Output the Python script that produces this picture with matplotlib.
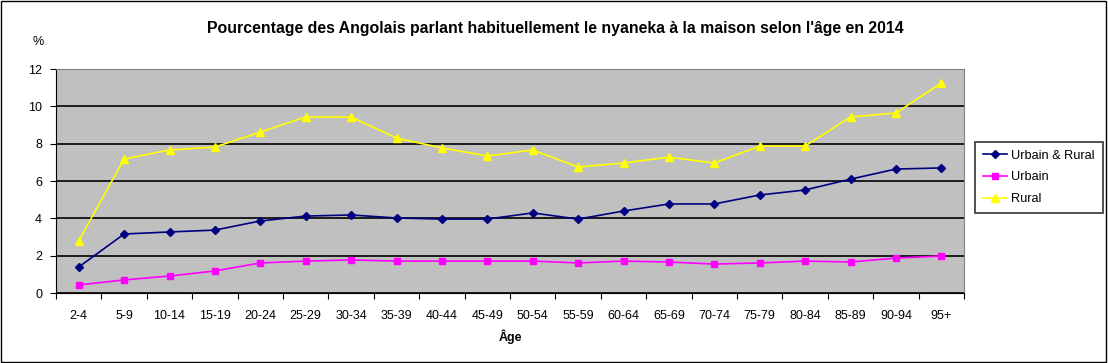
import matplotlib
matplotlib.use("Agg")
import matplotlib.pyplot as plt
import numpy as np

# Tranches d'âge
ages = ["2-4", "5-9", "10-14", "15-19", "20-24", "25-29", "30-34", "35-39", "40-44",
        "45-49", "50-54", "55-59", "60-64", "65-69", "70-74", "75-79", "80-84",
        "85-89", "90-94", "95+"]

urbain_rural = [1.39, 3.16, 3.27, 3.37, 3.86, 4.12, 4.18, 4.02, 3.96, 3.96,
                4.29, 3.96, 4.39, 4.77, 4.77, 5.25, 5.52, 6.10, 6.64, 6.70]
urbain = [0.43, 0.70, 0.91, 1.18, 1.61, 1.71, 1.77, 1.71, 1.71, 1.71,
          1.71, 1.61, 1.71, 1.66, 1.55, 1.61, 1.71, 1.66, 1.87, 1.98]
rural = [2.79, 7.18, 7.66, 7.82, 8.62, 9.43, 9.43, 8.30, 7.77, 7.34,
         7.66, 6.75, 6.96, 7.28, 6.96, 7.87, 7.87, 9.43, 9.64, 11.25]

plt.rcParams['font.family'] = ['Liberation Sans', 'DejaVu Sans']

W, H = 1108, 363
fig = plt.figure(figsize=(W / 100, H / 100), dpi=100)
# plot area in pixels: left 56, right 964, top 69, bottom 293
ax = fig.add_axes([56 / W, 1 - 293 / H, (964 - 56) / W, (293 - 69) / H])
ax.set_facecolor('#C0C0C0')

x = np.arange(len(ages))
ax.plot(x, urbain_rural, color='#000080', marker='D', markersize=4.5, lw=1.2,
        label='Urbain & Rural')
ax.plot(x, urbain, color='#FF00FF', marker='s', markersize=5, lw=1.2, label='Urbain')
ax.plot(x, rural, color='#FFFF00', marker='^', markersize=6, lw=1.2, label='Rural')

ax.set_xlim(-0.5, len(ages) - 0.5)
ax.set_ylim(0, 12)
ax.set_yticks(range(0, 13, 2))
ax.yaxis.grid(True, color='black', lw=1.2)
ax.set_axisbelow(True)

ax.set_xticks(np.arange(-0.5, len(ages), 1))
ax.set_xticklabels([])
ax.set_xticks(x, minor=True)
ax.set_xticklabels(ages, minor=True)
ax.tick_params(axis='x', which='minor', length=0, pad=12, labelsize=9)
ax.tick_params(axis='x', which='major', length=4, direction='out')
ax.tick_params(axis='y', length=4, labelsize=9, pad=6)

for side in ['top', 'right']:
    ax.spines[side].set_color('#808080')
for side in ['left', 'bottom']:
    ax.spines[side].set_color('black')

ax.set_xlabel('Âge', fontsize=9, fontweight='bold', labelpad=6)
fig.text(38 / W, 1 - 42 / H, '%', fontsize=9, ha='center', va='center')
fig.text(555 / W, 1 - 28 / H,
         "Pourcentage des Angolais parlant habituellement le nyaneka à la maison selon l'âge en 2014",
         fontsize=11.4, fontweight='bold', ha='center', va='center')

leg = ax.legend(loc='center left', bbox_to_anchor=(975 / W, 1 - 177.5 / H),
                bbox_transform=fig.transFigure, fontsize=9.2, frameon=True,
                fancybox=False, edgecolor='black', borderaxespad=0,
                handlelength=1.9, handletextpad=0.35, labelspacing=0.75,
                borderpad=0.6)
leg.get_frame().set_linewidth(1.2)

# cadre autour de la figure
fig.patches.append(plt.Rectangle((0.001, 0.002), 0.997, 0.995, transform=fig.transFigure,
                                 fill=False, edgecolor='black', lw=1))

fig.savefig('out.png', dpi=100)
